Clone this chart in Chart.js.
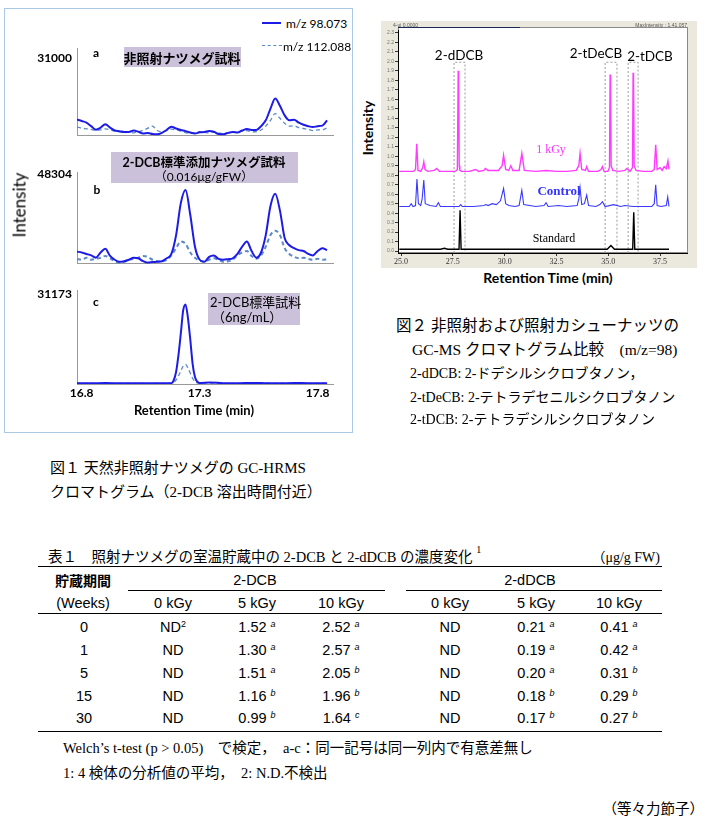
<!DOCTYPE html>
<html>
<head>
<meta charset="utf-8">
<script src="https://cdn.jsdelivr.net/npm/chart.js@4"></script>
<style>
  body { margin: 0; background: #fff; }
  #page { position: relative; width: 705px; height: 819px; overflow: hidden; color: #000;
          font-family: "Liberation Serif", "Noto Sans CJK JP", serif; }
  canvas { position: absolute; }
  .cc { position: absolute; white-space: nowrap; transform: translate(-50%, -50%); }
  .lc { position: absolute; white-space: nowrap; transform: translateY(-50%); }
  .rc { position: absolute; white-space: nowrap; transform: translate(-100%, -50%); }
  .sans { font-family: Lato, "Noto Sans CJK JP", sans-serif; }
  .arial { font-family: "Liberation Sans", "Noto Sans CJK JP", sans-serif; }
  .rule { position: absolute; height: 0; border-top: 1.3px solid #000; }
  .tag { position: absolute; background: #ccc1da; }
  sup { font-size: 9px; }
</style>
</head>
<body>
<div id="page">

  <!-- 図1 -->
  <div style="position:absolute;left:4px;top:8px;width:347px;height:423px;border:1px solid #a9c9e6;"></div>
  <canvas id="f1a" width="345" height="112" style="left:0;top:36px"></canvas>
  <canvas id="f1b" width="345" height="116" style="left:0;top:160px"></canvas>
  <canvas id="f1c" width="345" height="140" style="left:0;top:278px"></canvas>

  <div style="position:absolute;left:262px;top:22px;width:19px;border-top:2px solid #1c1ce6"></div>
  <div class="lc sans" style="left:286px;top:23px;font-size:12px">m/z 98.073</div>
  <div style="position:absolute;left:262px;top:45px;width:20px;border-top:1.5px dashed #5a8ac6"></div>
  <div class="lc sans" style="left:283px;top:46px;font-size:12px">m/z 112.088</div>

  <div class="tag" style="left:124px;top:47px;width:117px;height:20px"></div>
  <div class="cc sans" style="left:182px;top:57px;font-size:13px;font-weight:bold">非照射ナツメグ試料</div>
  <div class="tag" style="left:111px;top:152px;width:187px;height:31px"></div>
  <div class="cc sans" style="left:204px;top:161px;font-size:12.5px;font-weight:bold">2-DCB標準添加ナツメグ試料</div>
  <div class="cc sans" style="left:204px;top:175px;font-size:12px">（0.016μg/gFW）</div>
  <div class="tag" style="left:208px;top:293px;width:92px;height:32px"></div>
  <div class="lc sans" style="left:210px;top:301px;font-size:13px">2-DCB標準試料</div>
  <div class="lc sans" style="left:212px;top:316px;font-size:13px">（6ng/mL）</div>

  <div class="cc sans" style="left:96px;top:52px;font-size:12px;font-weight:bold">a</div>
  <div class="cc sans" style="left:97px;top:189px;font-size:12px;font-weight:bold">b</div>
  <div class="cc sans" style="left:96px;top:301px;font-size:12px;font-weight:bold">c</div>

  <div class="cc sans" style="left:19px;top:205px;font-size:17px;transform:translate(-50%,-50%) rotate(-90deg)">Intensity</div>
  <div class="cc sans" style="left:194px;top:410px;font-size:13px;font-weight:bold">Retention Time (min)</div>

  <div class="lc" style="left:50px;top:466px;font-size:15px">図１ 天然非照射ナツメグの GC-HRMS</div>
  <div class="lc" style="left:50px;top:490px;font-size:15px">クロマトグラム（2-DCB 溶出時間付近）</div>

  <!-- 図2 -->
  <canvas id="f2" width="316" height="247" style="left:381px;top:21px"></canvas>
  <div class="lc arial" style="left:393px;top:25px;font-size:5px;color:#555">4-ui 0.0000</div>
  <div class="rc arial" style="left:687px;top:25px;font-size:5px;color:#555">MaxIntensity : 1.41.057</div>
  <div class="cc sans" style="left:459px;top:55px;font-size:13.5px">2-dDCB</div>
  <div class="cc sans" style="left:596px;top:53px;font-size:13.5px">2-tDeCB</div>
  <div class="cc sans" style="left:650px;top:56px;font-size:13.5px">2-tDCB</div>
  <div class="cc" style="left:551px;top:149px;font-size:12px;color:#ff33ff">1 kGy</div>
  <div class="cc" style="left:559px;top:191px;font-size:13px;font-weight:bold;color:#3333ff">Control</div>
  <div class="cc" style="left:554px;top:238px;font-size:12px">Standard</div>
  <div class="cc sans" style="left:367px;top:128px;font-size:14px;font-weight:bold;transform:translate(-50%,-50%) rotate(-90deg)">Intensity</div>
  <div class="cc sans" style="left:548px;top:277px;font-size:14px;font-weight:bold">Retention Time (min)</div>

  <div class="lc" style="left:396px;top:324px;font-size:15.5px">図２ 非照射および照射カシューナッツの</div>
  <div class="lc" style="left:412px;top:348px;font-size:15.5px">GC-MS クロマトグラム比較　(m/z=98)</div>
  <div class="lc" style="left:410px;top:372px;font-size:14px">2-dDCB: 2-ドデシルシクロブタノン，</div>
  <div class="lc" style="left:410px;top:396px;font-size:14px">2-tDeCB: 2-テトラデセニルシクロブタノン</div>
  <div class="lc" style="left:410px;top:418px;font-size:14px">2-tDCB: 2-テトラデシルシクロブタノン</div>

  <!-- 表1 -->
  <div class="lc" style="left:48px;top:555px;font-size:14.5px">表１　照射ナツメグの室温貯蔵中の 2-DCB と 2-dDCB の濃度変化 <sup style="font-size:10px;position:relative;top:-3px">1</sup></div>
  <div class="rc" style="left:660px;top:556px;font-size:14px">（μg/g FW)</div>
  <div class="rule" style="left:38px;top:566px;width:624px"></div>
  <div class="rule" style="left:128px;top:590px;width:257px"></div>
  <div class="rule" style="left:406px;top:590px;width:256px"></div>
  <div class="rule" style="left:38px;top:613px;width:624px"></div>
  <div class="rule" style="left:38px;top:731px;width:624px"></div>
  <div class="cc arial" style="left:83px;top:580px;font-size:14px;font-weight:bold">貯蔵期間</div>
  <div class="cc arial" style="left:255px;top:580px;font-size:14.5px">2-DCB</div>
  <div class="cc arial" style="left:530px;top:580px;font-size:14.5px">2-dDCB</div>
  <div class="cc arial" style="left:83px;top:603px;font-size:14.5px">(Weeks)</div>
  <div id="tbody"></div>

  <div class="lc" style="left:63px;top:746px;font-size:14.5px">Welch’s t-test (p &gt; 0.05)　で検定，　a-c：同一記号は同一列内で有意差無し</div>
  <div class="lc" style="left:63px;top:771px;font-size:14.5px">1: 4 検体の分析値の平均，　2: N.D.不検出</div>
  <div class="rc" style="left:704px;top:807px;font-size:14.5px">（等々力節子）</div>
</div>

<script>
// ---------- 図1 GC-HRMS chromatograms ----------
const rt1 = [16.78,16.80,16.82,16.84,16.86,16.88,16.90,16.92,16.94,16.96,16.98,17.00,17.02,17.04,17.06,17.08,17.10,17.12,
  17.14,17.16,17.18,17.20,17.22,17.24,17.26,17.28,17.30,17.32,17.34,17.36,17.38,17.40,17.42,17.44,17.46,17.48,17.50,17.52,
  17.54,17.56,17.58,17.60,17.62,17.64,17.66,17.68,17.70,17.72,17.74,17.76,17.78,17.80,17.82,17.84];

// a: 非照射ナツメグ試料
const a98 = [6500,5900,5220,3830,2440,3250,4640,3250,2090,1860,1510,1510,2090,1620,930,1160,700,580,1160,2320,3600,2900,
  2320,1860,1280,930,1390,1510,1860,1620,700,580,1160,1510,1280,2090,2670,2320,2320,3830,6150,10790,14850,11950,8120,6150,
  6380,5220,4410,3830,3480,3830,4060,6150];
const a112 = [3480,3020,2780,2550,2090,2320,2780,2320,1860,1510,1280,1510,1160,1620,2090,3020,3830,2090,1620,2090,2670,2320,
  1860,1280,930,1160,1620,1390,1160,1510,1160,930,1160,1620,1390,1860,2090,1620,1620,2320,3830,6150,8820,6960,4990,3830,
  3940,3250,2900,2550,2090,2320,2320,3250];

// b: 2-DCB標準添加ナツメグ試料
const b98 = [6550,6080,5300,4520,3280,6080,8110,4210,2180,1090,1400,2180,3280,2960,1400,620,940,1090,1400,2960,5300,15440,
  32600,39620,26360,9200,2180,1090,3740,4520,2650,2180,2500,2960,5300,9200,12010,6860,3280,6080,15440,31040,37600,28700,
  13880,9980,8420,7330,6860,5300,4520,6860,8420,7330];
const b112 = [2650,2180,3280,2180,2650,3280,4210,2960,1400,620,1090,2180,2650,3280,4210,3740,2180,1400,1400,2180,4520,8420,
  12010,10760,6080,3280,1720,1090,2180,2960,2180,1090,1400,2180,4520,6080,6860,4210,2650,4520,9200,15440,17780,15440,8420,
  5300,3740,2960,3280,2650,2180,2650,2180,2500];

// c: 2-DCB標準試料
const rtC = [16.78,16.84,16.90,16.96,17.02,17.08,17.13,17.18,17.19,17.20,17.21,17.22,17.23,17.24,17.25,17.26,17.27,17.28,
  17.29,17.30,17.34,17.40,17.46,17.52,17.58,17.64,17.70,17.76,17.84];
const c98 = [300,250,330,280,250,300,260,300,1300,4200,10000,17500,25500,27570,23000,15500,7000,2400,800,350,550,300,250,
  380,300,250,330,280,300];
const c112 = [200,250,150,200,250,150,200,250,500,1400,2800,4500,6200,6780,5600,3800,2000,800,350,250,300,200,250,200,300,
  200,250,200,250];

const rtTicks = [16.8, 17.3, 17.8];
const yTopA = 31000, yTopB = 48304, yTopC = 31173;

// ---------- 図2 GC-MS chromatograms (m/z=98) ----------
const kgyTime = [24.92,25.60,25.70,25.76,25.82,25.95,26.05,26.10,26.16,26.30,26.60,26.73,26.85,27.20,27.62,27.72,27.76,
  27.78,27.81,27.84,27.92,28.30,28.60,28.75,29.00,29.07,29.20,29.70,29.88,29.95,30.05,30.20,30.30,30.40,30.70,30.83,30.95,
  31.50,32.00,32.50,33.00,33.45,33.58,33.64,33.72,33.90,33.96,34.05,34.50,34.65,34.72,34.80,34.98,35.06,35.09,35.11,35.14,
  35.22,35.50,35.80,35.90,36.05,36.17,36.20,36.22,36.25,36.34,36.70,37.10,37.22,37.29,37.36,37.50,37.60,37.70,37.80,37.88,
  37.93];
const kgyVal = [0.84,0.84,0.86,1.13,0.85,0.84,0.88,0.94,0.86,0.84,0.85,0.87,0.84,0.84,0.84,0.86,1.90,1.86,0.90,0.85,0.84,
  0.84,0.86,0.84,0.85,0.87,0.85,0.85,0.90,1.01,0.86,0.85,0.90,0.85,0.85,1.03,0.85,0.84,0.85,0.84,0.84,0.85,0.90,1.03,0.86,
  0.85,0.89,0.84,0.84,0.86,0.89,0.84,0.84,0.88,1.86,1.82,0.90,0.85,0.84,0.85,0.87,0.84,0.88,1.88,1.84,0.90,0.85,0.84,0.84,
  0.86,1.12,0.86,0.88,0.85,0.89,0.87,0.95,0.86];

const ctrlTime = [24.92,25.40,25.49,25.58,25.70,25.77,25.84,25.95,26.02,26.10,26.17,26.40,26.70,26.80,26.90,27.40,27.80,
  27.88,27.96,28.50,29.00,29.10,29.20,29.40,29.60,29.80,29.88,29.95,30.05,30.20,30.50,30.70,30.83,30.92,31.50,31.90,32.00,
  32.10,32.60,33.00,33.50,33.58,33.64,33.72,33.85,33.96,34.05,34.40,34.60,34.72,34.85,35.25,35.60,35.80,36.20,36.80,37.10,
  37.22,37.29,37.36,37.55,37.80,37.87,37.93];
const ctrlVal = [0.47,0.47,0.50,0.47,0.48,0.76,0.50,0.48,0.55,0.75,0.50,0.48,0.47,0.51,0.47,0.47,0.47,0.49,0.47,0.47,0.48,
  0.49,0.48,0.50,0.49,0.53,0.60,0.66,0.50,0.48,0.47,0.48,0.64,0.49,0.47,0.48,0.51,0.47,0.48,0.47,0.48,0.55,0.67,0.49,0.50,
  0.59,0.48,0.47,0.49,0.52,0.47,0.49,0.47,0.48,0.47,0.47,0.47,0.50,0.70,0.48,0.47,0.48,0.57,0.47];

const stdTime = [24.92,26.90,27.10,27.25,27.80,27.85,27.90,28.30,34.95,35.13,35.30,36.18,36.23,36.28,37.93];
const stdVal = [0.02,0.02,0.03,0.02,0.02,0.43,0.02,0.02,0.02,0.06,0.02,0.02,0.41,0.02,0.02];

const peakBoxes = [[27.56, 28.09], [34.85, 35.42], [35.96, 36.44]];
const boxTop = 1.99;
const f2XTicks = [25.0, 27.5, 30.0, 32.5, 35.0, 37.5];
const f2YTicks = [0,0.1,0.2,0.3,0.4,0.5,0.6,0.7,0.8,0.9,1.0,1.1,1.2,1.3,1.4,1.5,1.6,1.7,1.8,1.9,2.0,2.1,2.2,2.3];

// ---------- 表1 ----------
const weeks = ['0', '1', '5', '15', '30'];
const dcb0 = ['ND', 'ND', 'ND', 'ND', 'ND'];
const dcb5 = ['1.52', '1.30', '1.51', '1.16', '0.99'];
const dcb5Sig = ['a', 'a', 'a', 'b', 'b'];
const dcb10 = ['2.52', '2.57', '2.05', '1.96', '1.64'];
const dcb10Sig = ['a', 'a', 'b', 'b', 'c'];
const ddcb0 = ['ND', 'ND', 'ND', 'ND', 'ND'];
const ddcb5 = ['0.21', '0.19', '0.20', '0.18', '0.17'];
const ddcb5Sig = ['a', 'a', 'a', 'b', 'b'];
const ddcb10 = ['0.41', '0.42', '0.31', '0.29', '0.27'];
const ddcb10Sig = ['a', 'a', 'b', 'b', 'b'];
const doseLabels = ['0 kGy', '5 kGy', '10 kGy', '0 kGy', '5 kGy', '10 kGy'];

const BLUE = '#1c1ce6';
const DASH = '#5a8ac6';
const pts = (xs, ys) => xs.map((x, i) => ({ x: x, y: ys[i] }));

function panel(id, xs, s98, s112, yTop, yMax, pad, showX, dashW) {
  return new Chart(document.getElementById(id), {
    type: 'line',
    data: {
      datasets: [
        { data: pts(xs, s98), borderColor: BLUE, borderWidth: 2, pointRadius: 0, cubicInterpolationMode: 'monotone' },
        { data: pts(xs, s112), borderColor: DASH, borderWidth: dashW, borderDash: [4, 3], pointRadius: 0,
          cubicInterpolationMode: 'monotone' },
      ],
    },
    options: {
      responsive: false,
      animation: false,
      devicePixelRatio: 1,
      layout: { padding: { top: pad[0], right: 12, bottom: pad[1], left: 0 } },
      plugins: { legend: { display: false }, tooltip: { enabled: false } },
      scales: {
        x: {
          type: 'linear', min: 16.78, max: 17.865,
          grid: { display: false, drawTicks: false },
          border: { color: '#9a9a9a' },
          ticks: { display: showX, padding: 2, color: '#000', font: { family: 'Lato', size: 12, weight: 'bold' },
                   callback: (v) => v.toFixed(1) },
          afterBuildTicks: (s) => { s.ticks = rtTicks.map((v) => ({ value: v })); },
          afterFit: (s) => { s.height = showX ? 34 : 0; },
        },
        y: {
          min: 0, max: yMax,
          grid: { display: false, drawTicks: false },
          border: { color: '#9a9a9a' },
          ticks: { padding: 5, color: '#000', font: { family: 'Lato', size: 12, weight: 'bold' } ,
                   callback: (v) => String(v) },
          afterBuildTicks: (s) => { s.ticks = [{ value: yTop }]; },
          afterFit: (s) => { s.width = 77; },
        },
      },
    },
  });
}

// y max chosen so the labelled value sits where the reference puts it
panel('f1a', rt1, a98, a112, yTopA, 34830, [10, 2], false, 1.3);
panel('f1b', rt1, b98, b112, yTopB, 49242, [8, 3], false, 2);
panel('f1c', rtC, c98, c112, yTopC, 32485, [7, 0], true, 1.3);

// figure 2
const frameBg = {
  id: 'frameBg',
  beforeDraw(chart) {
    const { ctx, chartArea: a } = chart;
    ctx.save();
    ctx.fillStyle = '#ebe9dd';
    ctx.fillRect(0, 0, chart.width, chart.height);
    ctx.fillStyle = '#fff';
    ctx.fillRect(a.left, a.top - 3, a.right - a.left, a.bottom - a.top + 3);
    ctx.strokeStyle = '#8a8a8a';
    ctx.lineWidth = 1;
    ctx.strokeRect(a.left + 0.5, a.top - 2.5, a.right - a.left, a.bottom - a.top + 2);
    ctx.strokeStyle = '#1b2a55';
    ctx.beginPath();
    ctx.moveTo(a.left, a.top - 2.5);
    ctx.lineTo(a.left + 122, a.top - 2.5);
    ctx.stroke();
    ctx.restore();
  },
};

const boxSets = peakBoxes.map((b) => ({
  data: [{ x: b[0], y: -0.02 }, { x: b[0], y: boxTop }, { x: b[1], y: boxTop }, { x: b[1], y: -0.02 }],
  borderColor: '#9c9c9c', borderWidth: 1, borderDash: [2, 2], pointRadius: 0,
}));

new Chart(document.getElementById('f2'), {
  type: 'line',
  data: {
    datasets: [
      { data: pts(kgyTime, kgyVal), borderColor: '#ff3cff', borderWidth: 1.4, pointRadius: 0 },
      { data: pts(ctrlTime, ctrlVal), borderColor: '#3a3aff', borderWidth: 1.1, pointRadius: 0 },
      { data: pts(stdTime, stdVal), borderColor: '#000', borderWidth: 1.4, pointRadius: 0 },
      ...boxSets,
    ],
  },
  options: {
    responsive: false,
    animation: false,
    devicePixelRatio: 1,
    layout: { padding: { top: 9, right: 10, bottom: 0, left: 0 } },
    plugins: { legend: { display: false }, tooltip: { enabled: false } },
    scales: {
      x: {
        type: 'linear', min: 24.855, max: 38.8,
        grid: { drawOnChartArea: false, tickLength: 3, color: '#333' },
        border: { color: '#000' },
        ticks: { padding: 1, color: '#333', autoSkip: false, maxRotation: 0,
                 font: { family: 'Liberation Serif', size: 8 }, callback: (v) => v.toFixed(1) },
        afterBuildTicks: (s) => { s.ticks = f2XTicks.map((v) => ({ value: v })); },
        afterFit: (s) => { s.height = 15; },
      },
      y: {
        min: -0.02, max: 2.33,
        grid: { drawOnChartArea: false, tickLength: 3, color: '#333' },
        border: { color: '#000' },
        ticks: { padding: 1, color: '#777', autoSkip: false, font: { family: 'Liberation Sans', size: 5 },
                 callback: (v) => v.toFixed(1) },
        afterBuildTicks: (s) => { s.ticks = f2YTicks.map((v) => ({ value: v })); },
        afterFit: (s) => { s.width = 17; },
      },
    },
  },
  plugins: [frameBg],
});

// table 1 body
const colX = [84, 173, 257, 341, 450, 536, 619];
const rowY = [627, 650, 673, 696, 718];
const body = document.getElementById('tbody');
function cell(x, y, html) {
  const d = document.createElement('div');
  d.className = 'cc arial';
  d.style.left = x + 'px';
  d.style.top = y + 'px';
  d.style.fontSize = '14.5px';
  d.innerHTML = html;
  body.appendChild(d);
}
doseLabels.forEach((t, i) => cell(colX[i + 1], 603, t));
const sig = (v, s) => v + ' <sup><i>' + s + '</i></sup>';
weeks.forEach((w, r) => {
  const y = rowY[r];
  cell(colX[0], y, w);
  cell(colX[1], y, r === 0 ? dcb0[r] + '<sup>2</sup>' : dcb0[r]);
  cell(colX[2], y, sig(dcb5[r], dcb5Sig[r]));
  cell(colX[3], y, sig(dcb10[r], dcb10Sig[r]));
  cell(colX[4], y, ddcb0[r]);
  cell(colX[5], y, sig(ddcb5[r], ddcb5Sig[r]));
  cell(colX[6], y, sig(ddcb10[r], ddcb10Sig[r]));
});
</script>
</body>
</html>
